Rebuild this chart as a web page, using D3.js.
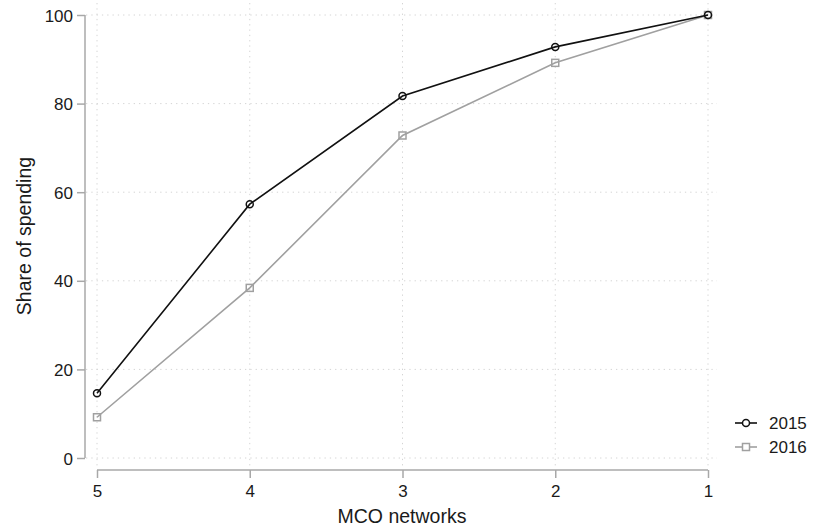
<!DOCTYPE html>
<html>
  <head>
    <script src="https://d3js.org/d3.v7.min.js"></script>
    <style>
      body { margin: 0; background: #fff; }
      text { font-family: "Liberation Sans", Arial, sans-serif; fill: #1a1a1a; }
    </style>
  </head>
  <body>
<script type="text/javascript">
var networks = [5, 4, 3, 2, 1];
var share2015 = [14.6, 57.3, 81.7, 92.8, 100];
var share2016 = [9.2, 38.4, 72.8, 89.2, 100];
var yTicks = [0, 20, 40, 60, 80, 100];
var seriesNames = ['2015', '2016'];

var width = 813, height = 529;
var svg = d3.select('body').append('svg')
    .attr('width', width)
    .attr('height', height);

var x = d3.scalePoint()
    .domain(networks)
    .range([97, 708]);
var y = d3.scaleLinear()
    .domain([0, 100])
    .range([458, 15]);

var gridColor = '#d4d4d4';
var axisColor = '#a8a8a8';

// grid
svg.append('g')
    .selectAll('line')
    .data(yTicks)
    .enter()
    .append('line')
    .attr('x1', 86).attr('x2', 717)
    .attr('y1', function(d) { return y(d); })
    .attr('y2', function(d) { return y(d); })
    .attr('stroke', gridColor)
    .attr('stroke-dasharray', '1.3,4');
svg.append('g')
    .selectAll('line')
    .data(networks)
    .enter()
    .append('line')
    .attr('x1', function(d) { return x(d); })
    .attr('x2', function(d) { return x(d); })
    .attr('y1', 3).attr('y2', 469)
    .attr('stroke', gridColor)
    .attr('stroke-dasharray', '1.3,4');

// y axis
var yAxis = svg.append('g')
    .attr('transform', 'translate(85,0)')
    .call(d3.axisLeft(y).tickValues(yTicks).tickSize(8).tickPadding(4));
// x axis
var xAxis = svg.append('g')
    .attr('transform', 'translate(0,470)')
    .call(d3.axisBottom(x).tickSize(8).tickPadding(7));

[yAxis, xAxis].forEach(function(a) {
  a.select('.domain').attr('stroke', axisColor).attr('stroke-width', 1.5);
  a.selectAll('.tick line').attr('stroke', axisColor).attr('stroke-width', 1.5);
  a.selectAll('.tick text').attr('font-size', 17).attr('fill', '#1a1a1a')
      .style('font-family', '"Liberation Sans", Arial, sans-serif');
});
yAxis.selectAll('.tick text').attr('dy', '0.36em');
yAxis.select('.domain').attr('d', 'M0,' + y(0) + 'V' + y(100));
xAxis.select('.domain').attr('d', 'M' + x(5) + ',0H' + x(1));

// titles
svg.append('text')
    .attr('x', 402).attr('y', 523)
    .attr('text-anchor', 'middle')
    .attr('font-size', 19.5)
    .text('MCO networks');
svg.append('text')
    .attr('transform', 'translate(31,236) rotate(-90)')
    .attr('text-anchor', 'middle')
    .attr('font-size', 19.5)
    .text('Share of spending');

var line = d3.line()
    .x(function(d, i) { return x(networks[i]); })
    .y(function(d) { return y(d); });

// 2016
svg.append('path')
    .datum(share2016)
    .attr('d', line)
    .attr('fill', 'none')
    .attr('stroke', '#a0a0a0')
    .attr('stroke-width', 1.6);
svg.append('g')
    .selectAll('rect')
    .data(share2016)
    .enter()
    .append('rect')
    .attr('x', function(d, i) { return x(networks[i]) - 3.5; })
    .attr('y', function(d) { return y(d) - 3.5; })
    .attr('width', 7).attr('height', 7)
    .attr('fill', 'none')
    .attr('stroke', '#a0a0a0')
    .attr('stroke-width', 1.5);

// 2015
svg.append('path')
    .datum(share2015)
    .attr('d', line)
    .attr('fill', 'none')
    .attr('stroke', '#111')
    .attr('stroke-width', 1.6);
svg.append('g')
    .selectAll('circle')
    .data(share2015)
    .enter()
    .append('circle')
    .attr('cx', function(d, i) { return x(networks[i]); })
    .attr('cy', function(d) { return y(d); })
    .attr('r', 3.5)
    .attr('fill', 'none')
    .attr('stroke', '#111')
    .attr('stroke-width', 1.5);

// legend
var legend = svg.append('g').attr('transform', 'translate(735,423)');
seriesNames.forEach(function(name, i) {
  var g = legend.append('g').attr('transform', 'translate(0,' + (i * 24) + ')');
  var c = i === 0 ? '#111' : '#a0a0a0';
  g.append('line').attr('x1', 0).attr('x2', 22).attr('y1', 0).attr('y2', 0)
      .attr('stroke', c).attr('stroke-width', 1.6);
  if (i === 0) {
    g.append('circle').attr('cx', 11).attr('cy', 0).attr('r', 3.5)
        .attr('fill', '#fff').attr('stroke', c).attr('stroke-width', 1.5);
  } else {
    g.append('rect').attr('x', 7.5).attr('y', -3.5).attr('width', 7).attr('height', 7)
        .attr('fill', '#fff').attr('stroke', c).attr('stroke-width', 1.5);
  }
  g.append('text').attr('x', 34).attr('y', 6)
      .attr('font-size', 17)
      .text(name);
});
</script>
  </body>
</html>
